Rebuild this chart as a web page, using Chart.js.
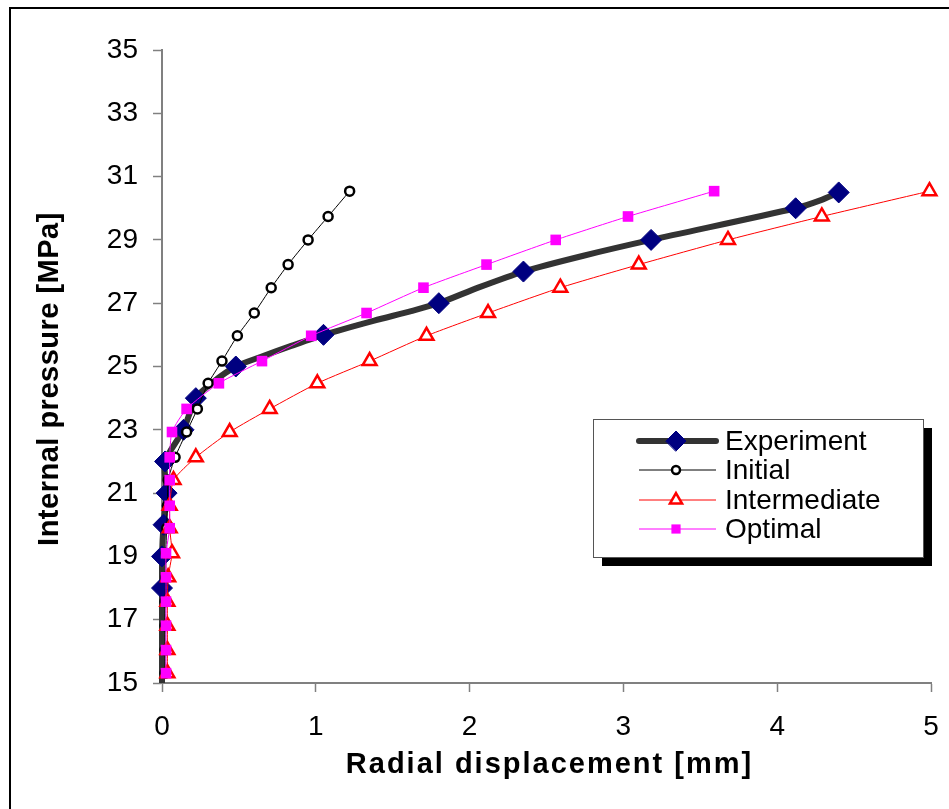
<!DOCTYPE html>
<html>
<head>
<meta charset="utf-8">
<script src="https://cdn.jsdelivr.net/npm/chart.js@4"></script>
<style>
  body { margin: 0; background: #fff; }
  #wrap { width: 949px; height: 809px; position: relative; }
</style>
</head>
<body>
<div id="wrap"><canvas id="pressureChart" width="949" height="809"></canvas></div>
<script>
// load steps shared by the three FE runs [MPa]
var simPressure = [15.31, 16.04, 16.81, 17.57, 18.34, 19.10, 19.89, 20.60, 21.41, 22.13, 22.93,
                   23.66, 24.47, 25.17, 25.97, 26.69, 27.49, 28.22, 29.00, 29.74, 30.54];

// radial displacement [mm]
var initialDisp      = [0.02, 0.02, 0.02, 0.02, 0.025, 0.025, 0.03, 0.035, 0.04, 0.085, 0.16,
                        0.23, 0.30, 0.39, 0.49, 0.60, 0.71, 0.82, 0.95, 1.08, 1.22];
var intermediateDisp = [0.035, 0.035, 0.035, 0.035, 0.04, 0.065, 0.05, 0.05, 0.075, 0.22, 0.44,
                        0.70, 1.01, 1.35, 1.72, 2.12, 2.59, 3.10, 3.68, 4.29, 4.99];
var optimalDisp      = [0.026, 0.026, 0.026, 0.026, 0.026, 0.026, 0.05, 0.05, 0.05, 0.05, 0.065,
                        0.16, 0.37, 0.65, 0.97, 1.33, 1.70, 2.11, 2.56, 3.03, 3.59];

// measured curve, markers only on the whole-MPa readings (and the last one)
var expPressure = [15, 16, 17, 18, 19, 20, 21, 22, 23, 24, 24.5, 25, 25.3, 25.65, 26, 26.45, 26.75,
                   27, 27.5, 28, 28.5, 29, 30, 30.25, 30.5];
var expDisp     = [0, 0, 0, 0, 0, 0.01, 0.03, 0.02, 0.14, 0.22, 0.33, 0.48, 0.64, 0.84, 1.05, 1.38, 1.62,
                   1.80, 2.06, 2.35, 2.74, 3.18, 4.12, 4.28, 4.40];
var expMarked   = [0, 0, 0, 1, 1, 1, 1, 1, 1, 1, 0, 1, 0, 0, 1, 0, 0,
                   1, 0, 1, 0, 1, 1, 0, 1];

var xTicks = { min: 0, max: 5, step: 1 };
var yTicks = { min: 15, max: 35, step: 2 };

var FONT = '"Liberation Sans", Arial, sans-serif';

function toPoints(xs, ys) {
    var pts = [];
    for (let i = 0; i < xs.length; i++) {
        pts.push({ x: xs[i], y: ys[i] });
    }
    return pts;
}

var datasets = [
    {
        label: 'Experiment',
        data: toPoints(expDisp, expPressure),
        borderColor: '#333333',
        borderWidth: 6,
        pointStyle: 'rectRot',
        pointRadius: expMarked.map(function (m) { return m ? 10.5 : 0; }),
        pointBackgroundColor: '#000080',
        pointBorderColor: '#000080',
        pointBorderWidth: 1,
        tension: 0.25,
        order: 4
    },
    {
        label: 'Initial',
        data: toPoints(initialDisp, simPressure),
        borderColor: '#000000',
        borderWidth: 1,
        pointStyle: 'circle',
        pointRadius: 4.5,
        pointBackgroundColor: '#ffffff',
        pointBorderColor: '#000000',
        pointBorderWidth: 2.5,
        tension: 0.2,
        order: 3
    },
    {
        label: 'Intermediate',
        data: toPoints(intermediateDisp, simPressure),
        borderColor: '#ff0000',
        borderWidth: 1,
        pointStyle: 'triangle',
        pointRadius: 8,
        pointBackgroundColor: '#ffffff',
        pointBorderColor: '#ff0000',
        pointBorderWidth: 2.5,
        tension: 0.2,
        order: 2
    },
    {
        label: 'Optimal',
        data: toPoints(optimalDisp, simPressure),
        borderColor: '#ff00ff',
        borderWidth: 1,
        pointStyle: 'rect',
        pointRadius: 7.5,
        pointBackgroundColor: '#ff00ff',
        pointBorderColor: '#ff00ff',
        pointBorderWidth: 0,
        tension: 0.2,
        order: 1
    }
];
datasets.forEach(function (d) { d.clip = false; d.showLine = true; d.pointHoverRadius = d.pointRadius; });

// outer frame, axis titles and the boxed legend with its drop shadow
var decorations = {
    id: 'decorations',
    afterDraw: function (chart) {
        var ctx = chart.ctx;
        var area = chart.chartArea;
        ctx.save();

        ctx.strokeStyle = '#000';
        ctx.lineWidth = 2;
        ctx.beginPath();
        ctx.moveTo(10, 809);
        ctx.lineTo(10, 8);
        ctx.lineTo(949, 8);
        ctx.stroke();

        ctx.fillStyle = '#000';
        ctx.font = 'bold 29px ' + FONT;
        ctx.textAlign = 'center';
        ctx.textBaseline = 'middle';
        ctx.letterSpacing = '2px';
        ctx.fillText('Radial displacement [mm]', (area.left + area.right) / 2 + 3, 765);

        ctx.save();
        ctx.translate(50, 379);
        ctx.rotate(-Math.PI / 2);
        ctx.letterSpacing = '0.5px';
        ctx.fillText('Internal pressure [MPa]', 0, 0);
        ctx.restore();
        ctx.letterSpacing = '0px';

        var box = { left: 593, top: 419, right: 923, bottom: 557 };
        ctx.fillStyle = '#000';
        ctx.fillRect(box.left + 9, box.top + 9, box.right - box.left, box.bottom - box.top);
        ctx.fillStyle = '#fff';
        ctx.fillRect(box.left, box.top, box.right - box.left, box.bottom - box.top);
        ctx.strokeStyle = '#555';
        ctx.lineWidth = 1;
        ctx.strokeRect(box.left + 0.5, box.top + 0.5, box.right - box.left, box.bottom - box.top);

        var rowY = [441, 470, 500, 529];
        var legendRadius = [10, 4, 7, 6.5];
        chart.data.datasets.forEach(function (ds, i) {
            var y = rowY[i];
            ctx.strokeStyle = ds.borderColor;
            ctx.lineWidth = ds.borderWidth;
            ctx.lineCap = ds.borderWidth > 2 ? 'round' : 'butt';
            ctx.beginPath();
            ctx.moveTo(639, y);
            ctx.lineTo(716, y);
            ctx.stroke();
            ctx.fillStyle = ds.pointBackgroundColor;
            ctx.strokeStyle = ds.pointBorderColor;
            ctx.lineWidth = ds.pointBorderWidth;
            Chart.helpers.drawPoint(ctx, {
                pointStyle: ds.pointStyle,
                radius: legendRadius[i],
                rotation: 0,
                borderWidth: ds.pointBorderWidth
            }, 676, y);
            ctx.fillStyle = '#000';
            ctx.font = '28px ' + FONT;
            ctx.textAlign = 'left';
            ctx.textBaseline = 'middle';
            ctx.fillText(ds.label, 725, y + 1);
        });
        ctx.restore();
    }
};

new Chart(document.getElementById('pressureChart'), {
    type: 'scatter',
    data: { datasets: datasets },
    plugins: [decorations],
    options: {
        responsive: false,
        animation: false,
        events: [],
        layout: { padding: { top: 50, right: 18, left: 0, bottom: 0 } },
        plugins: {
            legend: { display: false },
            tooltip: { enabled: false }
        },
        scales: {
            x: {
                type: 'linear',
                position: 'bottom',
                min: xTicks.min,
                max: xTicks.max,
                ticks: { stepSize: xTicks.step, color: '#000', padding: 18, font: { family: FONT, size: 28 } },
                grid: { drawOnChartArea: false, tickLength: 9, tickColor: '#808080', tickWidth: 1.5 },
                border: { color: '#808080', width: 2 },
                afterFit: function (s) {
                    s.height = 126;
                    // tick padding is meant vertically only, keep the ends of the axis where they are
                    s.paddingLeft = 10;
                    s.paddingRight = 10;
                }
            },
            y: {
                type: 'linear',
                min: yTicks.min,
                max: yTicks.max,
                ticks: { stepSize: yTicks.step, color: '#000', padding: 15, font: { family: FONT, size: 28 } },
                grid: { drawOnChartArea: false, tickLength: 9, tickColor: '#808080', tickWidth: 1.5 },
                border: { color: '#808080', width: 2 },
                afterFit: function (s) { s.width = 162; }
            }
        }
    }
});
</script>
</body>
</html>
